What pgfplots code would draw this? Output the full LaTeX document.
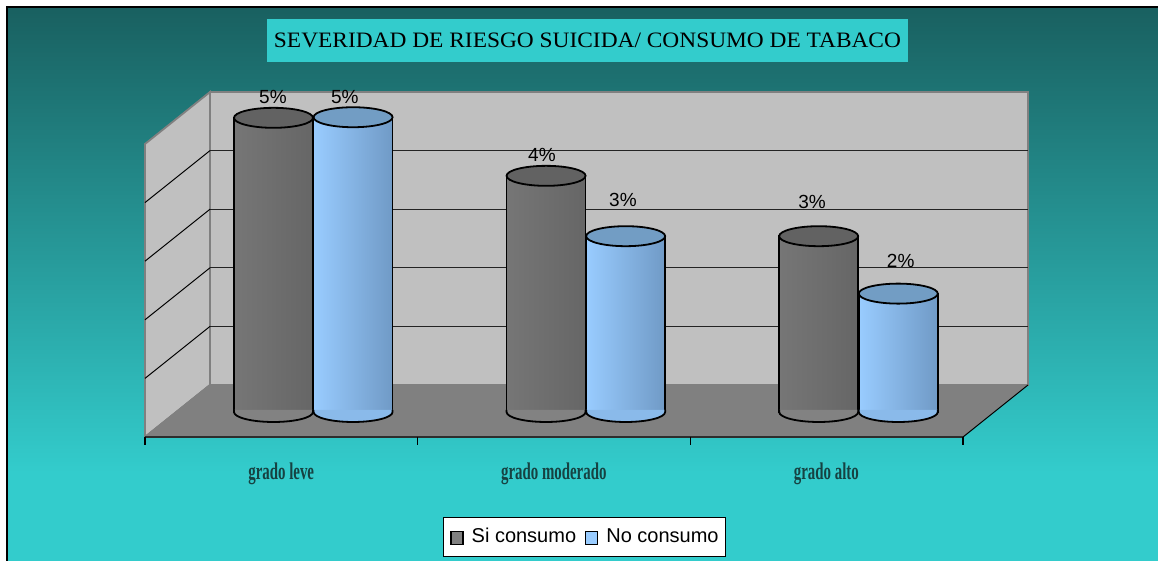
\documentclass[border=0pt]{standalone}
\usepackage{pgfplots}
\pgfplotsset{compat=1.18}
\usepackage{pgfplotstable}
\usepackage{graphicx}
\usepackage{fontspec}
\setmainfont{Liberation Sans}
\newfontfamily\titlefont{Liberation Serif}
\newfontfamily\catfont[FakeStretch=0.62]{Liberation Serif Bold}

\definecolor{bgtop}{RGB}{25,96,96}
\definecolor{bgbot}{RGB}{51,204,204}
\definecolor{wallc}{RGB}{192,192,192}
\definecolor{floorc}{RGB}{128,128,128}
\definecolor{borderc}{RGB}{128,128,128}
\definecolor{gridc}{RGB}{35,35,35}
\definecolor{titlebox}{RGB}{51,204,204}
\definecolor{catc}{RGB}{22,66,66}
\definecolor{gL}{RGB}{118,118,118}
\definecolor{gM}{RGB}{130,130,130}
\definecolor{gR}{RGB}{102,102,102}
\definecolor{gTop}{RGB}{98,98,98}
\definecolor{gLeg}{RGB}{128,128,128}
\definecolor{bL}{RGB}{153,204,255}
\definecolor{bM}{RGB}{138,186,234}
\definecolor{bR}{RGB}{112,154,198}
\definecolor{bTop}{RGB}{114,157,196}
\definecolor{bLeg}{RGB}{153,204,255}

\pgfdeclareverticalshading{bgsh}{100bp}{color(0bp)=(bgbot); color(33bp)=(bgbot); color(75bp)=(bgtop); color(100bp)=(bgtop)}

\pgfdeclareplotmark{captop}{%
  \pgfpathellipse{\pgfpointorigin}{\pgfqpoint{19.75pt}{0pt}}{\pgfqpoint{0pt}{5pt}}%
  \pgfusepathqfillstroke}
\pgfdeclareplotmark{capbot}{%
  \pgfpathmoveto{\pgfqpoint{-19.75pt}{1pt}}%
  \pgfpathlineto{\pgfqpoint{-19.75pt}{0pt}}%
  \pgfpatharc{180}{360}{19.75pt and 5pt}%
  \pgfpathlineto{\pgfqpoint{19.75pt}{1pt}}%
  \pgfusepathqfillstroke}

% series: x position, value, base, label shifts (pt)
\pgfplotstableread{
x      y     base  dx     dy
-0.145 5.02  0     -0.25  10.25
0.855  4.03  0     -2.05  10.4
1.855  3.00  0     -3.35  17.1
}\sidata
\pgfplotstableread{
x      y     base  dx     dy
0.147  5.03  0     -4.1   9.95
1.147  3.00  0     -1.35  18.1
2.147  2.02  0     1.2    16.3
}\nodata

\pgfplotsset{
  sibar/.style={forget plot, ybar, bar width=0.2898, bar shift=0pt, draw=black, line width=0.9pt,
    left color=gL, middle color=gM, right color=gR},
  nobar/.style={forget plot, ybar, bar width=0.2898, bar shift=0pt, draw=black, line width=0.9pt,
    left color=bL, middle color=bM, right color=bR},
  onlyrow/.style={restrict expr to domain={\coordindex}{#1:#1}},
  caplabels/.style={point meta=y,
    visualization depends on={\thisrow{dx}\as\dxs},
    visualization depends on={\thisrow{dy}\as\dys},
    nodes near coords={\pgfmathprintnumber[fixed,precision=0]{\pgfplotspointmeta}\%},
    every node near coord/.append style={anchor=center, inner sep=0pt, xshift=\dxs pt, yshift=\dys pt,
      font=\fontsize{9.5}{11}\selectfont, text=black}},
}

\begin{document}
\begin{tikzpicture}
\begin{axis}[
  width=579pt, height=280.5pt, scale only axis,
  xmin=-1.14820, xmax=3.09978, ymin=-2.54266, ymax=7.03072,
  axis on top,
  axis line style={draw=none}, tick style={draw=none},
  xtick={-0.1167,0.8833,1.8833},
  xticklabels={grado leve, grado moderado, grado alto},
  ytick=\empty,
  xticklabel style={anchor=center, yshift=43.5pt, inner sep=0pt,
    font=\catfont\fontsize{12}{14}\selectfont, text=catc},
  /pgf/number format/assume math mode=true,
  legend columns=2,
  legend style={at={(rel axis cs:0.5048,0.0428)}, anchor=center,
    draw=black, fill=white, line width=0.6pt,
    inner xsep=3.5pt, inner ysep=5.7pt,
    font=\fontsize{10}{12}\selectfont,
    nodes={inner sep=0pt, text height=7.2pt, text depth=0pt},
    /tikz/every odd column/.style={column sep=4pt},
    /tikz/every even column/.style={column sep=4.5pt}},
]
% page and background
\addplot[forget plot, draw=none, fill=white] coordinates {(-1.14820,-2.54266) (3.09978,-2.54266) (3.09978,7.03072) (-1.14820,7.03072)} -- cycle;
\addplot[forget plot, draw=none, shading=bgsh] coordinates {(-1.12253,-2.54266) (3.09978,-2.54266) (3.09978,6.91126) (-1.12253,6.91126)} -- cycle;
\addplot[forget plot, black, line width=0.8pt] coordinates {(-1.12253,-2.54266) (-1.12253,6.91126) (3.09978,6.91126)};

% back wall
\addplot[forget plot, fill=wallc, draw=borderc, line width=0.9pt] coordinates {(-0.3778,0.4608) (2.6229,0.4608) (2.6229,5.4608) (-0.3778,5.4608)} -- cycle;
% left wall
\addplot[forget plot, fill=wallc, draw=borderc, line width=0.9pt] coordinates {(-0.6163,-0.4266) (-0.3778,0.4608) (-0.3778,5.4608) (-0.6163,4.5734)} -- cycle;
% grid lines on back wall
\addplot[forget plot, gridc, line width=0.5pt] coordinates {(-0.3778,1.4608) (2.6229,1.4608)};
\addplot[forget plot, gridc, line width=0.5pt] coordinates {(-0.3778,2.4608) (2.6229,2.4608)};
\addplot[forget plot, gridc, line width=0.5pt] coordinates {(-0.3778,3.4608) (2.6229,3.4608)};
\addplot[forget plot, gridc, line width=0.5pt] coordinates {(-0.3778,4.4608) (2.6229,4.4608)};
% grid lines on left wall
\addplot[forget plot, black, line width=0.5pt] coordinates {(-0.6163,0.5734) (-0.3778,1.4608)};
\addplot[forget plot, black, line width=0.5pt] coordinates {(-0.6163,1.5734) (-0.3778,2.4608)};
\addplot[forget plot, black, line width=0.5pt] coordinates {(-0.6163,2.5734) (-0.3778,3.4608)};
\addplot[forget plot, black, line width=0.5pt] coordinates {(-0.6163,3.5734) (-0.3778,4.4608)};
% floor
\addplot[forget plot, fill=floorc, draw=none] coordinates {(-0.6163,-0.4266) (2.3845,-0.4266) (2.6229,0.4608) (-0.3778,0.4608)} -- cycle;
\addplot[forget plot, draw=borderc, line width=0.9pt] coordinates {(-0.6163,-0.4266) (-0.3778,0.4608) (2.6229,0.4608)};
\addplot[forget plot, black, line width=0.5pt] coordinates {(2.3845,-0.4266) (2.6229,0.4608)};
\addplot[forget plot, draw={rgb,255:red,45;green,45;blue,45}, line width=1pt] coordinates {(-0.6163,-0.4266) (2.3845,-0.4266)};
% category ticks on floor edge
\addplot[forget plot, black, line width=0.6pt] coordinates {(-0.6163,-0.4266) (-0.6163,-0.5631)};
\addplot[forget plot, black, line width=0.6pt] coordinates {(0.3838,-0.4266) (0.3838,-0.5631)};
\addplot[forget plot, black, line width=0.6pt] coordinates {(1.3838,-0.4266) (1.3838,-0.5631)};
\addplot[forget plot, black, line width=0.6pt] coordinates {(2.3845,-0.4266) (2.3845,-0.5631)};

% Si consumo cylinders (one bar per plot so each gets its own shading)
\addplot[sibar, onlyrow=0] table[x=x, y=y] {\sidata};
\addplot[sibar, onlyrow=1] table[x=x, y=y] {\sidata};
\addplot[sibar, onlyrow=2] table[x=x, y=y] {\sidata};
\addplot[forget plot, only marks, mark=capbot, mark options={fill=gM, draw=black, line width=0.9pt}]
  table[x=x, y=base] {\sidata};
\addplot[forget plot, only marks, mark=captop, mark options={fill=gTop, draw=black, line width=0.9pt},
  caplabels] table[x=x, y=y] {\sidata};

% No consumo cylinders
\addplot[nobar, onlyrow=0] table[x=x, y=y] {\nodata};
\addplot[nobar, onlyrow=1] table[x=x, y=y] {\nodata};
\addplot[nobar, onlyrow=2] table[x=x, y=y] {\nodata};
\addplot[forget plot, only marks, mark=capbot, mark options={fill=bM, draw=black, line width=0.9pt}]
  table[x=x, y=base] {\nodata};
\addplot[forget plot, only marks, mark=captop, mark options={fill=bTop, draw=black, line width=0.9pt},
  caplabels] table[x=x, y=y] {\nodata};

% legend
\addlegendimage{legend image code/.code={\draw[fill=gLeg, draw=black, line width=0.6pt] (0pt,-4.5pt) rectangle (6pt,2pt);}}
\addlegendentry{Si consumo}
\addlegendimage{legend image code/.code={\draw[fill=bLeg, draw=black, line width=0.6pt] (0pt,-4.5pt) rectangle (6pt,2pt);}}
\addlegendentry{No consumo}

% title
\node[fill=titlebox, minimum width=320.5pt, minimum height=21.5pt, inner sep=0pt, anchor=center]
  at (axis cs:1.0070,6.3396)
  {\resizebox{313.5pt}{\height}{\titlefont\fontsize{11}{13}\selectfont SEVERIDAD DE RIESGO SUICIDA/ CONSUMO DE TABACO}};
\end{axis}
\end{tikzpicture}
\end{document}
